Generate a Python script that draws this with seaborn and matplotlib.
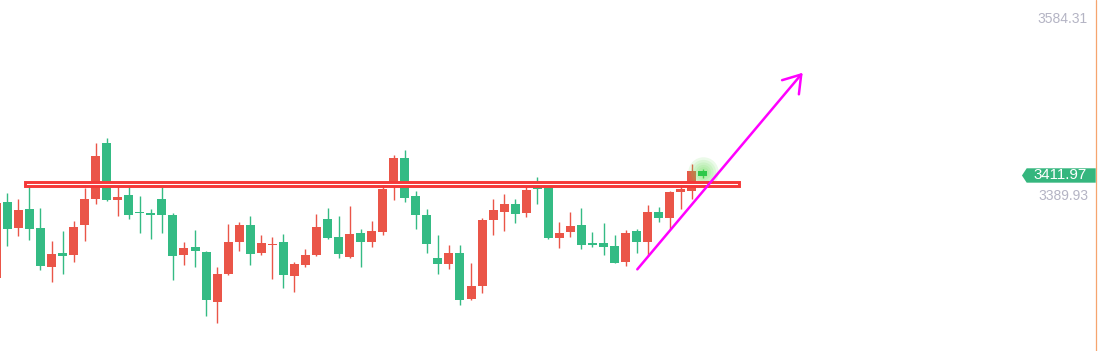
# candlestick chart with breakout box + arrow annotation
import numpy as np
import pandas as pd
import seaborn as sns
import matplotlib.pyplot as plt
import matplotlib.transforms as mtransforms
from matplotlib.patches import Rectangle, Polygon

# ==============================
# data
# ==============================
opens = [3299.9, 3383.3, 3354.8, 3375.7, 3354.8, 3311.9, 3327.3, 3325.1, 3358.1, 3386.6,
         3448.1, 3385.5, 3391.0, 3372.4, 3371.3, 3386.6, 3369.1, 3325.1, 3333.9, 3328.4,
         3273.5, 3304.3, 3339.4, 3358.1, 3327.3, 3336.1, 3339.4, 3302.1, 3314.1, 3325.1,
         3364.7, 3344.9, 3322.9, 3349.3, 3339.4, 3350.4, 3400.9, 3431.7, 3389.9, 3369.1,
         3321.8, 3315.2, 3327.3, 3276.8, 3291.1, 3363.6, 3372.4, 3381.1, 3371.3, 3403.1,
         3400.9, 3343.8, 3350.4, 3358.1, 3338.3, 3338.3, 3335.0, 3317.4, 3351.5, 3339.4,
         3372.4, 3365.8, 3394.3, 3395.4, 3417.4]
highs = [3383.3, 3393.2, 3386.6, 3403.1, 3376.7, 3340.5, 3351.5, 3362.5, 3398.7, 3448.1,
         3453.6, 3403.1, 3399.8, 3389.9, 3375.7, 3399.8, 3371.3, 3339.4, 3352.6, 3329.5,
         3311.9, 3359.2, 3361.4, 3368.0, 3347.1, 3344.9, 3348.2, 3317.4, 3331.7, 3370.2,
         3376.7, 3368.0, 3378.9, 3353.7, 3362.5, 3402.0, 3435.0, 3440.5, 3395.4, 3375.7,
         3347.1, 3336.1, 3336.1, 3316.3, 3365.8, 3386.6, 3392.1, 3386.6, 3403.1, 3410.8,
         3404.2, 3361.4, 3372.4, 3376.7, 3350.4, 3360.3, 3347.1, 3352.6, 3353.7, 3380.0,
         3377.8, 3395.4, 3402.0, 3425.1, 3419.6]
lows = [3298.8, 3335.0, 3346.0, 3341.6, 3308.7, 3295.5, 3304.3, 3317.4, 3340.5, 3381.1,
        3384.4, 3368.0, 3364.7, 3349.3, 3342.7, 3349.3, 3297.7, 3314.1, 3311.9, 3258.1,
        3250.5, 3303.2, 3329.5, 3314.1, 3325.1, 3298.8, 3288.9, 3284.5, 3311.9, 3324.0,
        3342.7, 3321.8, 3321.8, 3311.9, 3333.9, 3347.1, 3385.5, 3383.3, 3353.7, 3327.3,
        3304.3, 3309.8, 3270.2, 3275.7, 3283.4, 3347.1, 3351.5, 3360.3, 3366.9, 3381.1,
        3342.7, 3332.8, 3345.0, 3331.7, 3333.9, 3325.1, 3316.3, 3313.0, 3327.3, 3324.0,
        3361.4, 3353.7, 3375.7, 3386.6, 3409.8]
closes = [3382.2, 3353.7, 3374.6, 3353.7, 3313.0, 3326.2, 3324.0, 3355.9, 3386.6, 3433.9,
          3385.5, 3388.8, 3369.1, 3371.3, 3369.1, 3369.1, 3324.0, 3332.8, 3329.5, 3275.7,
          3304.3, 3339.4, 3358.1, 3326.2, 3338.3, 3337.2, 3303.2, 3315.2, 3325.1, 3355.9,
          3343.8, 3326.2, 3348.2, 3339.4, 3351.5, 3397.6, 3431.7, 3387.7, 3369.1, 3337.2,
          3315.2, 3327.3, 3275.7, 3291.1, 3363.6, 3374.6, 3381.1, 3370.2, 3396.5, 3397.6,
          3343.8, 3349.3, 3357.0, 3336.1, 3336.1, 3333.9, 3316.3, 3349.3, 3339.4, 3372.4,
          3365.8, 3394.3, 3397.6, 3417.4, 3411.97]

last_price = 3411.97
side_labels = [3584.31, 3389.93]

# resistance box and trend arrow (bar index, price)
box_x = [2.64, 67.3]
box_y = [3400.6, 3405.0]
arrow_start = (58.06, 3309.4)
arrow_end = (73.04, 3525.3)

df = pd.DataFrame({"open": opens, "high": highs, "low": lows, "close": closes})
df["idx"] = np.arange(len(df))

# ==============================
# style
# ==============================
sns.set_theme(style="white")
plt.rcParams["font.family"] = ["Liberation Sans", "DejaVu Sans"]

RED = "#ea5548"
GREEN = "#34bb84"

fig = plt.figure(figsize=(10.99, 3.51), dpi=100)
ax = fig.add_axes([0, 0, 1, 1])
ax.set_xlim(0.335, 99.88)
ax.set_ylim(3219.7, 3605.2)
ax.axis("off")

# ==============================
# candles
# ==============================
up = df["close"] >= df["open"]
colors = np.where(up, RED, GREEN)
colors[-1] = "#2ec84a"

ax.vlines(df["idx"], df["low"], df["high"], colors=colors, lw=1.0, zorder=2)
body_lo = df[["open", "close"]].min(axis=1)
body_h = (df["close"] - df["open"]).abs().clip(lower=1.1)
ax.bar(df["idx"], body_h, bottom=body_lo, width=0.815, color=colors, lw=0, zorder=3)

# glow on the latest candle
li = df["idx"].iloc[-1]
for s in [480, 330, 210, 120, 60]:
    ax.scatter([li], [3416.3], s=s, color="#66dd55", alpha=0.13, lw=0, zorder=4)
ax.bar([li], [body_h.iloc[-1]], bottom=[body_lo.iloc[-1]], width=0.815,
       color="#2ec84a", lw=0, zorder=5)

# resistance box
ax.add_patch(Rectangle((box_x[0], box_y[0]), box_x[1] - box_x[0], box_y[1] - box_y[0],
                       facecolor="white", edgecolor="#f53838", lw=2.1, zorder=6))

# trend arrow
ax.annotate("", xy=arrow_end, xytext=arrow_start,
            arrowprops=dict(arrowstyle="->,head_length=1.2,head_width=0.79",
                            mutation_scale=10, color="#ff00ff", lw=1.8,
                            shrinkA=0, shrinkB=0), zorder=7)

# ==============================
# right-hand price labels
# ==============================
trans = mtransforms.blended_transform_factory(ax.transAxes, ax.transData)
ax.plot([0.9973, 0.9973], [0, 1], transform=ax.transAxes, color="#f6a46e", lw=0.9, zorder=8)

for v in side_labels:
    ax.text(0.9900, v, f"{v:.2f}", transform=trans, ha="right", va="center",
            fontsize=10, color="#b4b4c4")

tag_top = last_price + 8.4
tag_bot = last_price - 7.4
tag_mid = (tag_top + tag_bot) / 2
ax.add_patch(Polygon([(0.9299, tag_mid), (0.9342, tag_top), (0.9970, tag_top),
                      (0.9970, tag_bot), (0.9342, tag_bot)],
                     closed=True, transform=trans, facecolor="#35b67e",
                     edgecolor="none", zorder=9))
ax.text(0.9648, tag_mid, f"{last_price:.2f}", transform=trans, ha="center", va="center",
        fontsize=10.8, color="white", zorder=10)

fig.savefig("out.png", dpi=100, facecolor="white")
